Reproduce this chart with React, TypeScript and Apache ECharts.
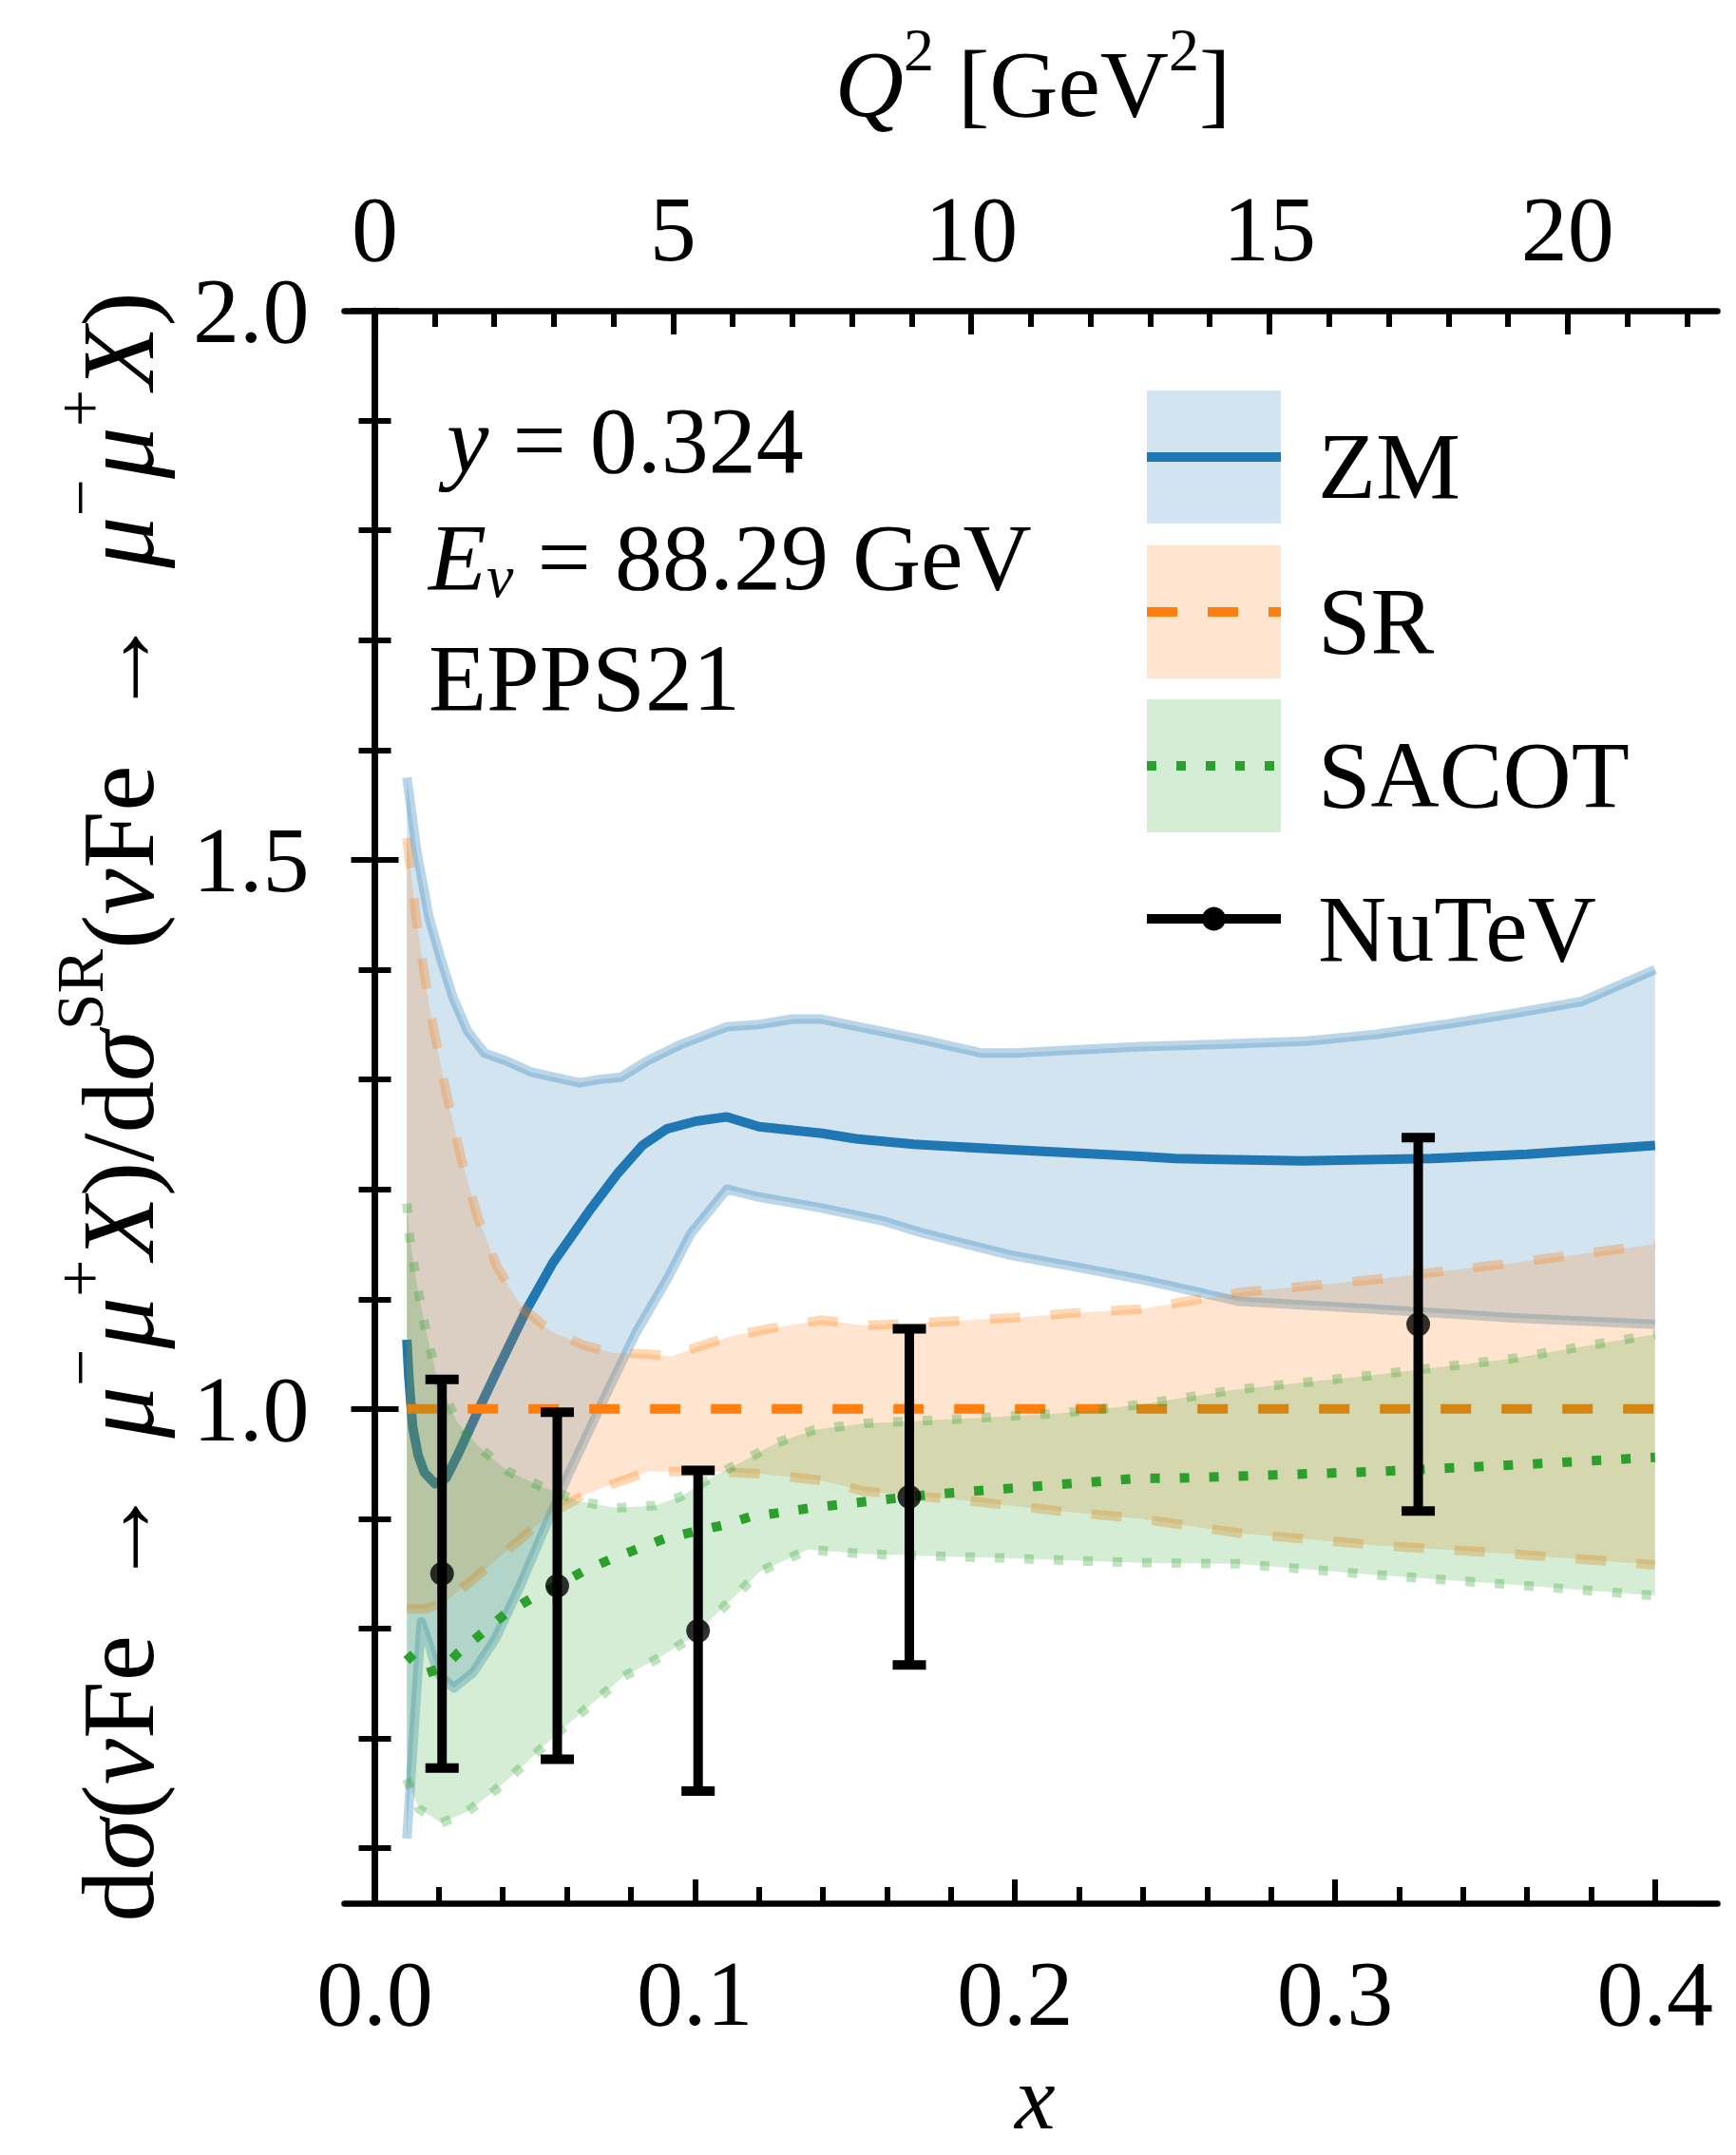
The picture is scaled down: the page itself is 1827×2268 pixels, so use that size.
import React, { useEffect, useRef } from 'react';
import * as echarts from 'echarts';

// ---------- data ----------
const Q2_PER_X = 2 * 0.938 * 88.29 * 0.324; // Q^2 = 2 M E x y

const X_MIN = -0.0095;
const X_MAX = 0.4195;
const Y_MIN = 0.55;
const Y_MAX = 2.0;

const xTickLabels = [0.0, 0.1, 0.2, 0.3, 0.4];
const xMinorTicks = [0.02, 0.04, 0.06, 0.08, 0.12, 0.14, 0.16, 0.18, 0.22, 0.24, 0.26, 0.28, 0.32, 0.34, 0.36, 0.38];
const q2TickLabels = [0, 5, 10, 15, 20];
const q2MinorTicks = [1, 2, 3, 4, 6, 7, 8, 9, 11, 12, 13, 14, 16, 17, 18, 19, 21, 22];
const yTickLabels = [1.0, 1.5, 2.0];
const yMinorTicks = [0.6, 0.7, 0.8, 0.9, 1.1, 1.2, 1.3, 1.4, 1.6, 1.7, 1.8, 1.9];

const zmCentral = [
  [0.0100, 1.063], [0.0106, 1.030], [0.0118, 0.984], [0.0135, 0.958], [0.0155, 0.942], [0.0188, 0.932],
  [0.0222, 0.937], [0.0257, 0.957], [0.0317, 0.995], [0.0387, 1.038], [0.0477, 1.092], [0.0556, 1.133],
  [0.0669, 1.180], [0.0760, 1.215], [0.0836, 1.240], [0.0912, 1.255], [0.1003, 1.262], [0.1100, 1.266],
  [0.1200, 1.257], [0.1397, 1.251], [0.1503, 1.246], [0.1684, 1.241], [0.1987, 1.236], [0.2393, 1.230],
  [0.2500, 1.228], [0.2900, 1.226], [0.3300, 1.228], [0.3600, 1.232], [0.4000, 1.240],
];
const zmUpper = [
  [0.0100, 1.575], [0.0131, 1.508], [0.0169, 1.448], [0.0207, 1.409], [0.0245, 1.374], [0.0290, 1.344],
  [0.0343, 1.324], [0.0411, 1.317], [0.0487, 1.307], [0.0563, 1.302], [0.0639, 1.297], [0.0700, 1.300],
  [0.0768, 1.302], [0.0851, 1.317], [0.0957, 1.332], [0.1100, 1.348], [0.1199, 1.350], [0.1305, 1.355],
  [0.1396, 1.355], [0.1530, 1.347], [0.1714, 1.336], [0.1896, 1.324], [0.2002, 1.324], [0.2184, 1.327],
  [0.2393, 1.330], [0.2525, 1.331], [0.2910, 1.335], [0.3125, 1.341], [0.3340, 1.350], [0.3555, 1.360],
  [0.3770, 1.371], [0.4000, 1.400],
];
const zmLower = [
  [0.0100, 0.609], [0.0125, 0.720], [0.0145, 0.806], [0.0170, 0.785], [0.0197, 0.759], [0.0247, 0.746],
  [0.0307, 0.760], [0.0377, 0.791], [0.0457, 0.841], [0.0536, 0.895], [0.0606, 0.941], [0.0706, 1.003],
  [0.0815, 1.069], [0.0915, 1.119], [0.0988, 1.160], [0.1100, 1.200], [0.1200, 1.193], [0.1396, 1.183],
  [0.1590, 1.171], [0.1714, 1.160], [0.1987, 1.140], [0.2214, 1.128], [0.2393, 1.118], [0.2700, 1.098],
  [0.3125, 1.091], [0.3555, 1.083], [0.4000, 1.077],
];

const srCentral = [[0.01, 1.0], [0.4, 1.0]];
const srUpper = [
  [0.0100, 1.520], [0.0131, 1.443], [0.0169, 1.369], [0.0215, 1.299], [0.0268, 1.230], [0.0321, 1.175],
  [0.0381, 1.130], [0.0457, 1.093], [0.0548, 1.071], [0.0654, 1.058], [0.0745, 1.051], [0.0851, 1.050],
  [0.0927, 1.048], [0.1003, 1.056], [0.1109, 1.066], [0.1230, 1.073], [0.1396, 1.081], [0.1530, 1.076],
  [0.1680, 1.078], [0.1987, 1.083], [0.2214, 1.088], [0.2393, 1.091], [0.2700, 1.106], [0.3125, 1.118],
  [0.3555, 1.133], [0.4000, 1.150],
];
const srLower = [
  [0.0100, 0.818], [0.0157, 0.818], [0.0217, 0.824], [0.0287, 0.840], [0.0377, 0.862], [0.0457, 0.882],
  [0.0556, 0.906], [0.0656, 0.922], [0.0756, 0.933], [0.0855, 0.943], [0.0955, 0.943], [0.1054, 0.943],
  [0.1204, 0.941], [0.1393, 0.935], [0.1530, 0.925], [0.1835, 0.917], [0.2138, 0.907], [0.2393, 0.900],
  [0.2700, 0.887], [0.3125, 0.876], [0.3555, 0.868], [0.4000, 0.858],
];

const sacotCentral = [
  [0.0100, 0.777], [0.0157, 0.759], [0.0217, 0.765], [0.0257, 0.777], [0.0327, 0.794], [0.0406, 0.813],
  [0.0486, 0.827], [0.0575, 0.840], [0.0656, 0.853], [0.0735, 0.863], [0.0815, 0.872], [0.0905, 0.882],
  [0.0994, 0.888], [0.1084, 0.894], [0.1174, 0.902], [0.1274, 0.906], [0.1364, 0.910], [0.1453, 0.913],
  [0.1730, 0.922], [0.2393, 0.937], [0.2500, 0.937], [0.3125, 0.943], [0.3555, 0.949], [0.4000, 0.956],
];
const sacotUpper = [
  [0.0100, 1.187], [0.0108, 1.157], [0.0133, 1.111], [0.0158, 1.073], [0.0197, 1.026], [0.0257, 0.988],
  [0.0327, 0.965], [0.0417, 0.943], [0.0516, 0.930], [0.0636, 0.916], [0.0756, 0.910], [0.0875, 0.912],
  [0.0955, 0.920], [0.1054, 0.938], [0.1154, 0.953], [0.1254, 0.969], [0.1374, 0.981], [0.1530, 0.987],
  [0.1835, 0.991], [0.2138, 0.996], [0.2393, 1.004], [0.2700, 1.018], [0.3125, 1.031], [0.3555, 1.046],
  [0.4000, 1.068],
];
const sacotLower = [
  [0.0100, 0.663], [0.0138, 0.636], [0.0208, 0.623], [0.0287, 0.633], [0.0377, 0.653], [0.0477, 0.679],
  [0.0575, 0.706], [0.0676, 0.731], [0.0775, 0.756], [0.0885, 0.773], [0.0985, 0.791], [0.1095, 0.821],
  [0.1204, 0.852], [0.1354, 0.872], [0.1530, 0.868], [0.1987, 0.864], [0.2393, 0.860], [0.2700, 0.859],
  [0.3125, 0.849], [0.3555, 0.840], [0.4000, 0.830],
];

const nuX = [0.021, 0.057, 0.101, 0.167, 0.326];
const nuY = [0.850, 0.839, 0.798, 0.920, 1.077];
const nuErr = [0.177, 0.158, 0.146, 0.153, 0.170];

// ---------- styles ----------
const FAM = 'Liberation Serif';
const BLUE = '#1f77b4';
const ORANGE = '#ff7f0e';
const GREEN = '#2ca02c';
const DASH = [32, 32];
const DOT = [10, 21];
const LW = 10;

// Text pieces are laid out from measured widths; each piece is a plain text.
type Piece = { t: string; it?: boolean; sup?: boolean; sub?: boolean };
const yTitle: Piece[] = [
  { t: 'd' }, { t: 'σ', it: true }, { t: '(' }, { t: 'ν', it: true }, { t: 'Fe \u2009→\u2009 ' },
  { t: 'μ', it: true }, { t: '−', sup: true }, { t: 'μ', it: true }, { t: '+', sup: true }, { t: 'X', it: true },
  { t: ')/d' }, { t: 'σ', it: true }, { t: 'SR', sup: true }, { t: '(' }, { t: 'ν', it: true }, { t: 'Fe \u2009→\u2009 ' },
  { t: 'μ', it: true }, { t: '−', sup: true }, { t: 'μ', it: true }, { t: '+', sup: true }, { t: 'X', it: true }, { t: ')' },
];
const q2Title: Piece[] = [{ t: 'Q', it: true }, { t: '2', sup: true }, { t: ' [GeV' }, { t: '2', sup: true }, { t: ']' }];
const yLabel: Piece[] = [{ t: 'y', it: true }, { t: ' = 0.324' }];
const eLabel: Piece[] = [{ t: 'E', it: true }, { t: 'ν', it: true, sub: true }, { t: ' = 88.29 GeV' }];

let measureCtx: CanvasRenderingContext2D | null = null;
function pieceFont(p: Piece, size: number) {
  const s = p.sup || p.sub ? size * 0.64 : size;
  return `${p.it ? 'italic ' : ''}${s}px "${FAM}"`;
}
function measure(p: Piece, size: number) {
  if (!measureCtx) measureCtx = document.createElement('canvas').getContext('2d');
  measureCtx!.font = pieceFont(p, size);
  return measureCtx!.measureText(p.t).width;
}

// builds plain graphic text elements along a (possibly rotated) baseline
function buildText(pieces: Piece[], cx: number, cy: number, size: number, align: 'left' | 'center', rotated = false) {
  const widths = pieces.map((p) => measure(p, size));
  const total = widths.reduce((a, b) => a + b, 0);
  let pos = align === 'center' ? -total / 2 : 0;
  const els: any[] = [];
  pieces.forEach((p, k) => {
    const s = p.sup || p.sub ? size * 0.64 : size;
    const off = p.sup ? -0.36 * size : p.sub ? 0.2 * size : 0; // shift of piece centre relative to line
    const along = pos;
    const x = rotated ? cx + off : cx + along;
    const y = rotated ? cy - along : cy + off;
    els.push({
      type: 'text',
      x, y,
      rotation: rotated ? Math.PI / 2 : 0,
      z: 100,
      style: {
        text: p.t,
        fontFamily: FAM,
        fontSize: s,
        fontStyle: p.it ? 'italic' : 'normal',
        fill: '#000',
        align: 'left',
        verticalAlign: 'middle',
      },
    });
    pos += widths[k];
  });
  return els;
}

function bandSeries(upper: number[][], lower: number[][], fill: string, z: number) {
  return {
    type: 'custom',
    xAxisIndex: 0,
    yAxisIndex: 0,
    z,
    silent: true,
    data: [[upper[0][0], upper[0][1]]],
    renderItem: (params: any, api: any) => {
      const pts = upper.map((p) => api.coord(p)).concat(lower.slice().reverse().map((p) => api.coord(p)));
      return { type: 'polygon', shape: { points: pts }, style: { fill } };
    },
  };
}

function lineSeries(data: number[][], color: string, type: any, z: number) {
  return {
    type: 'line',
    xAxisIndex: 0,
    yAxisIndex: 0,
    z,
    silent: true,
    data,
    symbol: 'none',
    showSymbol: false,
    lineStyle: { color, width: LW, type, cap: 'butt', join: 'round' },
  };
}

function plainTitle(text: string, x: number, cy: number, italic = false, lh = 110, size = 100) {
  return {
    text, left: x, top: cy - lh / 2, padding: 0,
    textStyle: { fontFamily: FAM, fontSize: size, fontWeight: 'normal', fontStyle: italic ? 'italic' : 'normal', color: '#000', lineHeight: lh },
  };
}

const tickLabelStyle = { fontFamily: FAM, fontSize: 98, color: '#000' };

export default function App() {
  const ref = useRef<HTMLDivElement>(null);
  useEffect(() => {
    document.body.style.margin = '0';
    const chart = echarts.init(ref.current!, null, { renderer: 'svg' });

    const axisLineStyle = { show: true, lineStyle: { color: '#000', width: 6.5 } };
    const majorTick = (vals: number[]) => ({ show: true, inside: true, length: 25, customValues: vals, lineStyle: { color: '#000', width: 6 } });
    const minorTick = (vals: number[]) => ({ show: true, inside: true, length: 17, customValues: vals, lineStyle: { color: '#000', width: 6 } });
    const q2Minor = q2MinorTicks.map((q) => q / Q2_PER_X);
    const q2Major = q2TickLabels.map((q) => q / Q2_PER_X);

    const baseX = { type: 'value', min: X_MIN, max: X_MAX, splitLine: { show: false }, z: 50 };
    const baseY = { type: 'value', min: Y_MIN, max: Y_MAX, splitLine: { show: false }, z: 50 };

    const option: any = {
      animation: false,
      backgroundColor: '#fff',
      grid: { left: 362.5, right: 19.5, top: 327, bottom: 265, containLabel: false, outerBoundsMode: 'none' },
      title: [
        plainTitle('EPPS21', 451, 713),
        plainTitle('ZM', 1387, 490),
        plainTitle('SR', 1387, 653),
        plainTitle('SACOT', 1387, 815),
        plainTitle('NuTeV', 1387, 977),
        plainTitle('x', 1068, 2207, true, 56, 96),
      ],
      xAxis: [
        {
          ...baseX, position: 'bottom', axisLine: axisLineStyle, axisTick: majorTick(xTickLabels),
          axisLabel: { show: true, customValues: xTickLabels, margin: 46, formatter: (v: number) => v.toFixed(1), ...tickLabelStyle },
        },
        { ...baseX, position: 'bottom', axisLine: { show: false }, axisTick: minorTick(xMinorTicks), axisLabel: { show: false } },
        {
          ...baseX, position: 'top', axisLine: axisLineStyle, axisTick: majorTick(q2Major),
          axisLabel: { show: true, customValues: q2Major, margin: 37, formatter: (v: number) => String(Math.round(v * Q2_PER_X)), ...tickLabelStyle },
        },
        { ...baseX, position: 'top', axisLine: { show: false }, axisTick: minorTick(q2Minor), axisLabel: { show: false } },
      ],
      yAxis: [
        {
          ...baseY, position: 'left', axisLine: axisLineStyle, axisTick: majorTick(yTickLabels),
          axisLabel: { show: true, customValues: yTickLabels, margin: 37, padding: [20, 0, 0, 0], formatter: (v: number) => v.toFixed(1), ...tickLabelStyle },
        },
        { ...baseY, position: 'left', axisLine: { show: false }, axisTick: minorTick(yMinorTicks), axisLabel: { show: false } },
        { ...baseY, position: 'right', axisLine: axisLineStyle, axisTick: majorTick(yTickLabels), axisLabel: { show: false } },
        { ...baseY, position: 'right', axisLine: { show: false }, axisTick: minorTick(yMinorTicks), axisLabel: { show: false } },
      ],
      series: [
        bandSeries(zmUpper, zmLower, 'rgba(31,119,180,0.2)', 1),
        lineSeries(zmUpper, 'rgba(31,119,180,0.3)', 'solid', 2),
        lineSeries(zmLower, 'rgba(31,119,180,0.3)', 'solid', 2),
        lineSeries(zmCentral, BLUE, 'solid', 3),
        bandSeries(srUpper, srLower, 'rgba(255,127,14,0.2)', 4),
        lineSeries(srUpper, 'rgba(255,127,14,0.3)', DASH, 5),
        lineSeries(srLower, 'rgba(255,127,14,0.3)', DASH, 5),
        lineSeries(srCentral, ORANGE, DASH, 6),
        bandSeries(sacotUpper, sacotLower, 'rgba(44,160,44,0.2)', 7),
        lineSeries(sacotUpper, 'rgba(44,160,44,0.3)', DOT, 8),
        lineSeries(sacotLower, 'rgba(44,160,44,0.3)', DOT, 8),
        lineSeries(sacotCentral, GREEN, DOT, 9),
        {
          type: 'custom', xAxisIndex: 0, yAxisIndex: 0, z: 20, silent: true,
          data: nuX.map((x, i) => [x, nuY[i] - nuErr[i], nuY[i] + nuErr[i]]),
          renderItem: (params: any, api: any) => {
            const x = api.value(0);
            const lo = api.coord([x, api.value(1)]);
            const hi = api.coord([x, api.value(2)]);
            const cap = 17.5;
            const st = { stroke: '#000', lineWidth: 10 };
            return {
              type: 'group',
              children: [
                { type: 'line', shape: { x1: lo[0], y1: lo[1], x2: hi[0], y2: hi[1] }, style: st },
                { type: 'line', shape: { x1: lo[0] - cap, y1: lo[1], x2: lo[0] + cap, y2: lo[1] }, style: st },
                { type: 'line', shape: { x1: hi[0] - cap, y1: hi[1], x2: hi[0] + cap, y2: hi[1] }, style: st },
              ],
            };
          },
        },
        {
          type: 'scatter', xAxisIndex: 0, yAxisIndex: 0, z: 21, silent: true,
          symbol: 'circle', symbolSize: 25, itemStyle: { color: '#000' },
          data: nuX.map((x, i) => [x, nuY[i]]),
        },
      ],
      graphic: [
        ...buildText(yTitle, 124, 1165, 109, 'center', true),
        ...buildText(q2Title, 1087, 88, 100, 'center'),
        ...buildText(yLabel, 470, 463, 100, 'left'),
        ...buildText(eLabel, 451, 586, 100, 'left'),
        // legend keys
        { type: 'rect', z: 90, shape: { x: 1207, y: 411, width: 141, height: 140 }, style: { fill: 'rgba(31,119,180,0.2)' } },
        { type: 'line', z: 91, shape: { x1: 1207, y1: 481, x2: 1348, y2: 481 }, style: { stroke: BLUE, lineWidth: LW } },
        { type: 'rect', z: 90, shape: { x: 1207, y: 574, width: 141, height: 140 }, style: { fill: 'rgba(255,127,14,0.2)' } },
        { type: 'line', z: 91, shape: { x1: 1207, y1: 644, x2: 1348, y2: 644 }, style: { stroke: ORANGE, lineWidth: LW, lineDash: DASH } },
        { type: 'rect', z: 90, shape: { x: 1207, y: 736, width: 141, height: 140 }, style: { fill: 'rgba(44,160,44,0.2)' } },
        { type: 'line', z: 91, shape: { x1: 1207, y1: 806, x2: 1348, y2: 806 }, style: { stroke: GREEN, lineWidth: LW, lineDash: DOT } },
        { type: 'line', z: 91, shape: { x1: 1207, y1: 967, x2: 1348, y2: 967 }, style: { stroke: '#000', lineWidth: LW } },
        { type: 'circle', z: 92, shape: { cx: 1277.5, cy: 967, r: 12.5 }, style: { fill: '#000' } },
      ],
    };
    chart.setOption(option);
    return () => chart.dispose();
  }, []);
  return <div ref={ref} style={{ width: 1827, height: 2268 }} />;
}
